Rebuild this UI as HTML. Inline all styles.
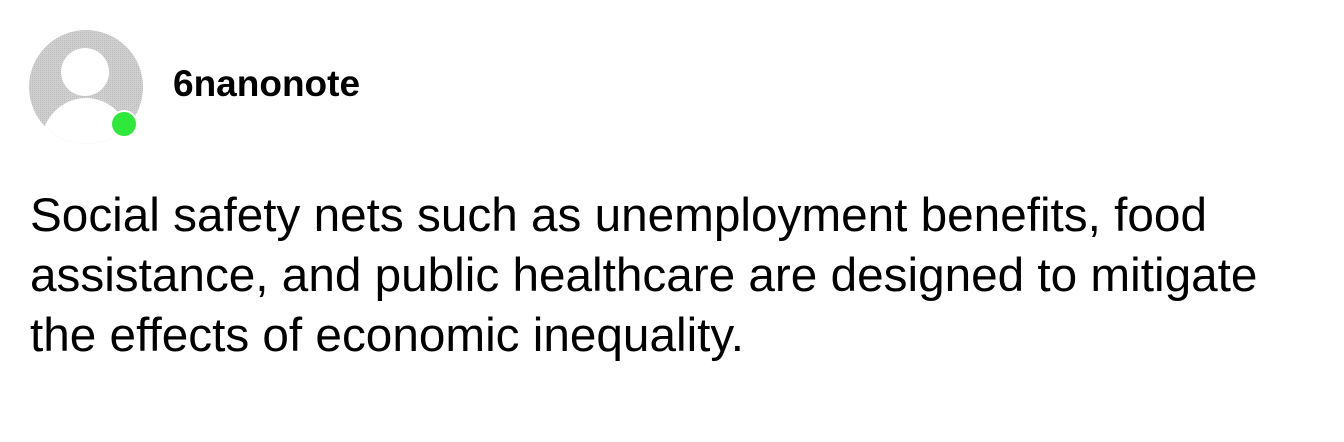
<!DOCTYPE html>
<html><head><meta charset="utf-8"><style>
body{margin:0;width:1344px;height:442px;background:#fff;position:relative;overflow:hidden;font-family:"Liberation Sans",Arial,sans-serif}
#avatar{position:absolute;left:0;top:0}
#user{position:absolute;left:173px;top:64px;font-size:37px;font-weight:bold;color:#000;line-height:40px}
#body{position:absolute;left:30px;top:186px;font-size:47.7px;line-height:60px;color:#000;white-space:nowrap}
</style></head><body>
<svg id="avatar" width="160" height="160">
<defs><clipPath id="c"><circle cx="86" cy="87" r="57"/></clipPath>
<pattern id="h" width="2" height="2" patternUnits="userSpaceOnUse"><rect width="2" height="2" fill="#cfcfcf"/><rect width="1" height="1" fill="#bdbdbd"/></pattern></defs>
<g clip-path="url(#c)"><rect x="0" y="0" width="160" height="160" fill="url(#h)"/>
<circle cx="85" cy="72" r="24" fill="#fff"/>
<ellipse cx="86" cy="148" rx="46" ry="50" fill="#fff"/></g>
<circle cx="124" cy="124" r="14" fill="#fff"/>
<circle cx="124" cy="124" r="12" fill="#2ee83a"/>
</svg>
<div id="user">6nanonote</div>
<div id="body">Social safety nets such as unemployment benefits, food<br>assistance, and public healthcare are designed to mitigate<br>the effects of economic inequality.</div>
</body></html>
